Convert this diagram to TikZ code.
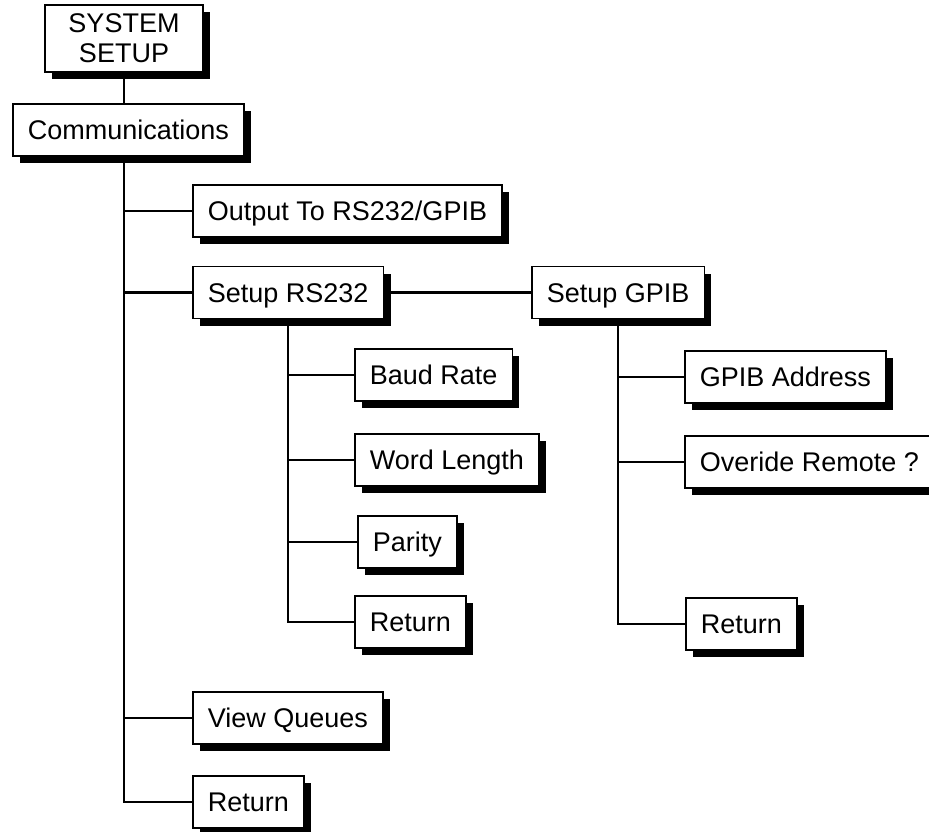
\documentclass[tikz,border=0pt]{standalone}
\usepackage{fontspec}
\setmainfont{Liberation Sans}
\usetikzlibrary{shadows}
\tikzset{
  boxbase/.style={draw=black, line width=1.8pt, fill=white,
    inner ysep=0pt, font=\fontsize{27}{30}\selectfont,
    drop shadow={shadow xshift=7pt, shadow yshift=-7pt, fill=black, opacity=1}},
  menubox/.style={boxbase, anchor=west, inner xsep=15pt, minimum height=52pt,
    text height=19.5pt, text depth=0pt},
  titlebox/.style={boxbase, anchor=center, minimum width=158pt, minimum height=67pt, align=center},
  link/.style={line width=2.5pt, line cap=rect}
}
\begin{document}
\begin{tikzpicture}[x=1pt,y=-1pt]
\useasboundingbox (0,0) rectangle (929,832);
% nodes
\node[titlebox] (sys) at (124,38.5) {SYSTEM\\SETUP};
\node[menubox] (comm) at (12,130) {Communications};
\node[menubox] (out) at (192,211) {Output To RS232/GPIB};
\node[menubox] (rs) at (192,292.5) {Setup RS232};
\node[menubox] (gpib) at (531,292.5) {Setup GPIB};
\node[menubox] (baud) at (354,375) {Baud Rate};
\node[menubox] (word) at (354,460) {Word Length};
\node[menubox] (parity) at (357,542) {Parity};
\node[menubox] (rsret) at (354,622) {Return};
\node[menubox] (addr) at (684,377) {GPIB Address};
\node[menubox] (over) at (684,462) {Overide Remote ?};
\node[menubox] (gret) at (685,624) {Return};
\node[menubox] (view) at (192,718) {View Queues};
\node[menubox] (ret) at (192,802) {Return};
% connectors
\draw[link] (sys.south) -- (sys.south |- comm.north);
\draw[link] (sys.south |- comm.south) |- (out.west);
\draw[link] (sys.south |- comm.south) |- (rs.west);
\draw[link] (sys.south |- comm.south) |- (view.west);
\draw[link] (sys.south |- comm.south) |- (ret.west);
\draw[link] (rs.east) -- (gpib.west);
\draw[link] ([yshift=-7pt]rs.south) |- (baud.west);
\draw[link] ([yshift=-7pt]rs.south) |- (word.west);
\draw[link] ([yshift=-7pt]rs.south) |- (parity.west);
\draw[link] ([yshift=-7pt]rs.south) |- (rsret.west);
\draw[link] ([yshift=-7pt]gpib.south) |- (addr.west);
\draw[link] ([yshift=-7pt]gpib.south) |- (over.west);
\draw[link] ([yshift=-7pt]gpib.south) |- (gret.west);
\end{tikzpicture}
\end{document}
